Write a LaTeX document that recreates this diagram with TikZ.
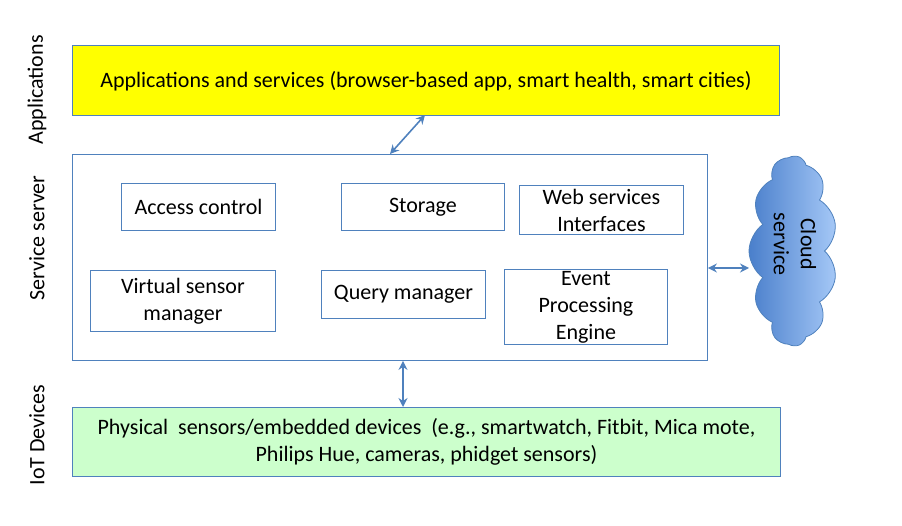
\documentclass[tikz,border=0pt]{standalone}
\usepackage{fontspec}
\setmainfont{Carlito}
\usetikzlibrary{shapes.symbols,arrows.meta}
\definecolor{bord}{HTML}{4F81BD}
\definecolor{yel}{HTML}{FFFF00}
\definecolor{grn}{HTML}{CCFFCC}
\definecolor{cdark}{HTML}{4A7FCB}
\definecolor{clight}{HTML}{A5C8F7}
\tikzset{
  txt/.style={font=\fontsize{22}{27}\selectfont},
  layer/.style={draw=bord, line width=0.9pt, inner sep=0pt},
  comp/.style={draw=bord, line width=0.9pt, fill=white, align=center, txt, inner sep=0pt},
  side/.style={rotate=90, txt},
  link/.style={draw=bord, line width=1.6pt, {Stealth[length=9pt,width=9pt]}-{Stealth[length=9pt,width=9pt]}}
}
\begin{document}
\begin{tikzpicture}[x=1pt,y=-1pt]
\useasboundingbox (0,0) rectangle (902,526);
% layers
\node[layer, fill=yel, minimum width=707pt, minimum height=70pt, anchor=north west] (app) at (72,45) {};
\node[txt] (apptext) at ([yshift=-1pt]app.center) {Applications and services (browser-based app, smart health, smart cities)};
\node[layer, fill=white, minimum width=635pt, minimum height=206pt, anchor=north west] (srv) at (72,154) {};
\node[layer, fill=grn, minimum width=708pt, minimum height=69pt, anchor=north west] (iot) at (72,407) {};
\node[txt, align=center] (iottext) at (iot.center) {Physical\ \ sensors/embedded devices\ \ (e.g., smartwatch, Fitbit, Mica mote,\\Philips Hue, cameras, phidget sensors)};
% components
\node[comp, minimum width=154pt, minimum height=47pt, anchor=north west] (acc) at (121,183) {Access control};
\node[comp, minimum width=163pt, minimum height=47pt, anchor=north west] (sto) at (341,183) {\strut Storage};
\node[comp, minimum width=164pt, minimum height=49pt, anchor=north west] (web) at (519,185) {Web services\\Interfaces};
\node[comp, minimum width=185pt, minimum height=61pt, anchor=north west] (vsm) at (90,270) {Virtual sensor\\manager};
\node[comp, minimum width=164pt, minimum height=48pt, anchor=north west] (qry) at (321,270) {Query manager};
\node[comp, minimum width=163pt, minimum height=75pt, anchor=north west] (evt) at (504,269) {Event\\Processing\\Engine};
% cloud
\node[cloud, rotate=90, cloud puffs=11, cloud puff arc=110, cloud ignores aspect, draw=bord, line width=0.8pt, left color=cdark, right color=clight, minimum width=190pt, minimum height=88pt, inner sep=0pt] (cloud) at (793,251) {};
\node[rotate=-90, align=center, txt] (cloudtext) at (795,244) {Cloud\\service};
% side labels
\node[side] (lapp) at (37,90) {Applications};
\node[side] (lsrv) at (37,238) {Service server};
\node[side] (liot) at (37,435) {IoT Devices};
% connectors
\coordinate (a1) at (425,115);
\coordinate (a2) at (390,154);
\coordinate (c1) at (749,268);
\draw[link] (a1) -- (a2);
\draw[link] (srv.east |- c1) -- (c1);
\draw[link] (srv.south -| 403,0) -- (iot.north -| 403,0);
\end{tikzpicture}
\end{document}
